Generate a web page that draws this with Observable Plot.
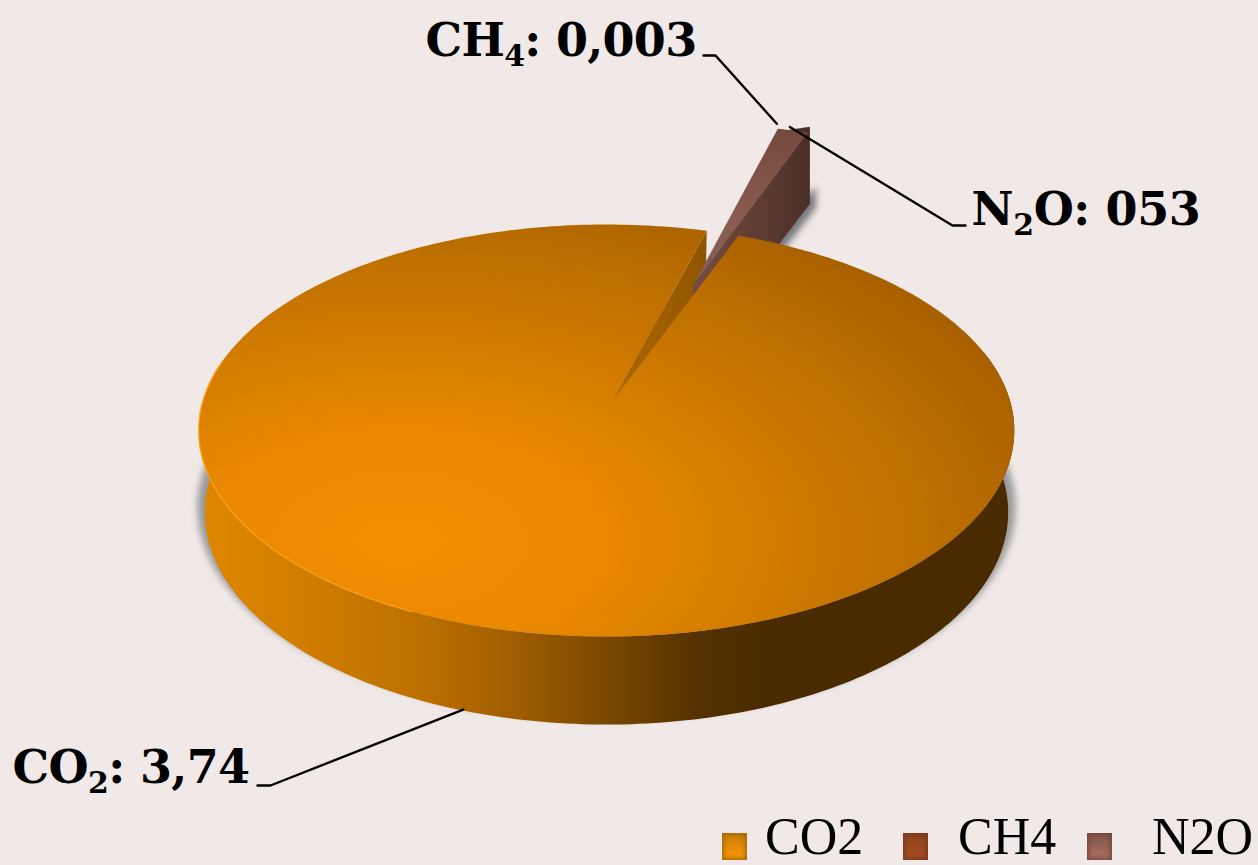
<!DOCTYPE html>
<html>
<head>
<meta charset="utf-8">
<script src="https://cdn.jsdelivr.net/npm/d3@7"></script>
<script src="https://cdn.jsdelivr.net/npm/@observablehq/plot@0.6"></script>
<style>
html,body{margin:0;padding:0;background:#f0e9e7;overflow:hidden;width:1258px;height:865px}
#legend{position:relative;height:45px;width:1258px;font-family:"Liberation Serif",serif;font-size:52px;color:#000}
#legend .s{position:absolute;top:13px;width:25px;height:27px}
#legend .t{position:absolute;top:-2.5px;height:38px;line-height:38px;white-space:nowrap}
</style>
</head>
<body>
<div id="chart"></div>
<div id="legend"></div>
<script>
const categories = ["CO2", "CH4", "N2O"];
const seriesValues = [3.74, 0.003, 0.053];
const labelHead = ["CO", "CH", "N"];
const labelSub = ["2", "4", "2"];
const labelTail = [": 3,74", ": 0,003", "O: 053"];
const labelX = [12, 425, 971];
const labelY = [768, 41, 210];
const labelWidth = [237, 271, 229];
const elbowA = [[257, 785], [703, 55], [965, 225]];
const elbowB = [[270, 785], [715, 55], [952, 225]];
const leaderNudge = [[5, 0], [-1, -5], [2, -3]];
const legendSwatchX = [722, 903, 1087];
const legendTextX = [765, 958, 1152];
const legendEdge = ["#a86a08", "#7d3a1c", "#75493f"];
const legendTopTone = ["#c67c08", "#8c4220", "#7f5348"];
const legendCore = ["#ff9a06", "#a84c22", "#ad7263"];

const W = 1258, H = 820;
const rad = d => d * Math.PI / 180;
const center = [606, 402], apex = [611, 402], k = -0.136, a = 404, b = 202.2;
const botX = 0.985, botY = 1.03, botOff = 81;
function proj(u, v, bottom = false) {
  const w = 1 + k * v;
  const X = a * u / w, Y = b * v / w;
  return bottom ? [center[0] + X * botX, center[1] + Y * botY + botOff] : [center[0] + X, center[1] + Y];
}
const uv = (deg, r = 1) => [r * Math.sin(rad(deg)), -r * Math.cos(rad(deg))];

const startDeg = 21.6;
const arcs = d3.pie().sort(null).startAngle(rad(startDeg)).endAngle(rad(startDeg + 360))(seriesValues)
  .map(d => ({start: d.startAngle * 180 / Math.PI, end: d.endAngle * 180 / Math.PI}));
const [co2, ch4, n2o] = arcs;

function arcPts(s, e, bottom = false, off = [0, 0], r = 1) {
  const n = Math.max(2, Math.ceil(Math.abs(e - s)));
  return d3.range(n + 1).map(i => {
    const [u, v] = uv(s + (e - s) * i / n, r);
    return proj(u + off[0], v + off[1], bottom);
  });
}

// CO2 top, rim and gap face
const co2Top = [apex, ...arcPts(co2.start, co2.end)];
const rimS = 75, rimE = 285;
const co2Rim = [...arcPts(rimS, rimE), ...arcPts(rimE, rimS, true)];
const shadowBody = arcPts(0, 360, true).map(([x, y]) => [center[0] + (x - center[0]) * 1.018, y - 5]);
const [eu, ev] = uv(co2.end);
const co2Gap = [apex, proj(eu, ev), proj(eu, ev, true), [apex[0], apex[1] + botOff]];
const highlight = arcPts(205, 282);

// exploded N2O
const explode = 0.67, outerR = 1.07, nDepth = 71, nTurn = -1;
const off = uv(20.3, explode);
const nTip = proj(off[0], off[1]);
const nArc = arcPts(n2o.start + nTurn, n2o.end + nTurn, false, off, outerR);
const nTop = [nTip, ...nArc];
const nCorner = nArc[nArc.length - 1];
const nFaceR = [nTip, nArc[2], [nCorner[0] + 2, nCorner[1] - 6], [nCorner[0] + 2, nCorner[1] + nDepth], [nTip[0], nTip[1] + nDepth]];
const nShadow = [nTip, [nCorner[0] + 2, nCorner[1] + 50], [nCorner[0] + 2, nCorner[1] + nDepth], [nTip[0], nTip[1] + nDepth]]
  .map(([x, y]) => [x + 6, y + 4]);

const anchors = [
  proj(...uv((co2.start + co2.end) / 2), true),
  nArc[0],
  nArc[2]
];
const leaders = anchors.map((p, i) => [elbowA[i], elbowB[i], [p[0] + leaderNudge[i][0], p[1] + leaderNudge[i][1]]]);

const toRows = pts => pts.map(([x, y]) => ({x, y}));
const poly = (pts, fill) => Plot.line(toRows(pts), {x: "x", y: "y", fill, stroke: "none", curve: "linear-closed"});

const defs = () => {
  const g = d3.create("svg:defs");
  g.html(`
  <filter id="blur" x="-20%" y="-20%" width="140%" height="140%"><feGaussianBlur stdDeviation="3.5"/></filter>
  <linearGradient id="shadowA" gradientUnits="userSpaceOnUse" x1="0" x2="1" y1="0" y2="0"><stop offset="0" stop-color="#98989a"/><stop offset="1" stop-color="#98989a"/></linearGradient>
  <linearGradient id="shadowB" gradientUnits="userSpaceOnUse" x1="0" x2="1" y1="0" y2="0"><stop offset="0" stop-color="#77777a"/><stop offset="1" stop-color="#77777a"/></linearGradient>
  <linearGradient id="rim" gradientUnits="userSpaceOnUse" x1="203" x2="770" y1="0" y2="0">
    <stop offset="0" stop-color="#e08600"/><stop offset="0.22" stop-color="#cc7b00"/>
    <stop offset="0.4" stop-color="#ba6e00"/><stop offset="0.55" stop-color="#a05d00"/>
    <stop offset="0.7" stop-color="#7c4900"/><stop offset="0.88" stop-color="#533000"/>
    <stop offset="1" stop-color="#4a2b00"/>
  </linearGradient>
  <radialGradient id="top" gradientUnits="userSpaceOnUse" cx="0" cy="0" r="1" gradientTransform="translate(400 540) scale(680 370)">
    <stop offset="0" stop-color="#f28e00"/><stop offset="0.3" stop-color="#ea8800"/>
    <stop offset="0.5" stop-color="#d67e00"/><stop offset="0.8" stop-color="#bb6e00"/>
    <stop offset="1" stop-color="#a86000"/>
  </radialGradient>
  <linearGradient id="gap" gradientUnits="userSpaceOnUse" x1="612" x2="708" y1="0" y2="0">
    <stop offset="0" stop-color="#b06800"/><stop offset="1" stop-color="#8e5400"/>
  </linearGradient>
  <linearGradient id="nTop" gradientUnits="userSpaceOnUse" x1="0" x2="0" y1="126" y2="295">
    <stop offset="0" stop-color="#74493d"/><stop offset="0.55" stop-color="#8a5c4f"/><stop offset="1" stop-color="#7b6060"/>
  </linearGradient>
  <linearGradient id="nFace" gradientUnits="userSpaceOnUse" x1="700" x2="808" y1="0" y2="0">
    <stop offset="0" stop-color="#744a40"/><stop offset="1" stop-color="#4b2f27"/>
  </linearGradient>`);
  return g.node();
};

const chart = Plot.plot({
  width: W, height: H, margin: 0,
  style: {background: "#f0e9e7"},
  x: {domain: [0, W], range: [0, W], axis: null},
  y: {domain: [0, H], range: [0, H], axis: null},
  marks: [
    defs,
    poly(shadowBody, "url(#shadowA)"),
    poly(nShadow, "url(#shadowB)"),
    poly(co2Rim, "url(#rim)"),
    poly(co2Gap, "url(#gap)"),
    poly(nFaceR, "url(#nFace)"),
    poly(nTop, "url(#nTop)"),
    poly(co2Top, "url(#top)"),
    Plot.line(toRows(highlight), {x: "x", y: "y", stroke: "#fba21c", strokeWidth: 1.6, strokeOpacity: 0.8}),
    ...leaders.map(l => Plot.line(toRows(l), {x: "x", y: "y", stroke: "#000", strokeWidth: 2.4})),
    Plot.text(labelHead.map((h, i) => ({t: h + labelSub[i] + labelTail[i], x: labelX[i], y: labelY[i]})), {
      x: "x", y: "y", text: "t", textAnchor: "start", lineAnchor: "middle",
      fontFamily: "DejaVu Serif", fontWeight: "bold", fontSize: 46, fill: "#000"
    })
  ]
});
d3.select(chart).selectAll('[fill="url(#shadowA)"],[fill="url(#shadowB)"]').attr("filter", "url(#blur)");
chart.style.display = "block";
document.getElementById("chart").append(chart);

// Subscripts inside the real text labels, then fit each label to its measured width.
d3.select(chart).selectAll("text").each(function (_, i) {
  const el = d3.select(this);
  const txt = el.select("tspan").empty() ? el : el.select("tspan");
  txt.text(null);
  txt.append("tspan").text(labelHead[i]);
  txt.append("tspan").attr("dy", "10").attr("font-size", "0.65em").text(labelSub[i]);
  txt.append("tspan").attr("dy", "-10").text(labelTail[i]);
  const n = (labelHead[i] + labelSub[i] + labelTail[i]).length;
  const len = this.getComputedTextLength();
  el.style("letter-spacing", ((labelWidth[i] - len) / n) + "px");
});

const legend = d3.select("#legend");
categories.forEach((c, i) => {
  legend.append("div").attr("class", "s")
    .style("left", legendSwatchX[i] + "px")
    .style("background", `linear-gradient(${legendTopTone[i]}, ${legendCore[i]})`)
    .style("box-shadow", `inset 0 0 4px 2px ${legendEdge[i]}`);
  legend.append("div").attr("class", "t").style("left", legendTextX[i] + "px").text(c);
});
</script>
</body>
</html>
